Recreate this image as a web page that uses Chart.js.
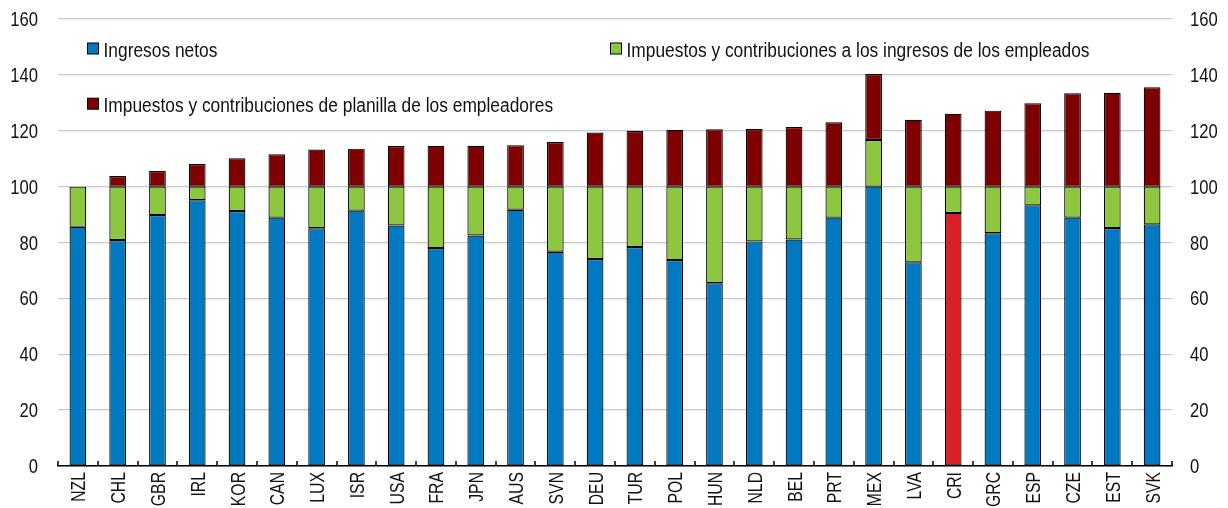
<!DOCTYPE html>
<html><head><meta charset="utf-8">
<script src="https://cdn.jsdelivr.net/npm/chart.js@4/dist/chart.umd.min.js"></script>
<style>html,body{margin:0;padding:0;background:#fff}#wrap{width:1228px;height:508px}</style>
</head><body><div id="wrap"><canvas id="c" width="1228" height="508"></canvas></div>
<script>
const categories = ['NZL','CHL','GBR','IRL','KOR','CAN','LUX','ISR','USA','FRA','JPN','AUS','SVN','DEU','TUR','POL','HUN','NLD','BEL','PRT','MEX','LVA','CRI','GRC','ESP','CZE','EST','SVK'];
const netIncome =     [85.6, 80.9, 89.8, 95.1, 91.3, 88.9, 85.1, 91.4, 86.1, 78.0, 82.5, 91.7, 76.7, 74.1, 78.4, 73.7, 65.4, 80.4, 81.1, 88.9, 100.0, 72.9, 90.6, 83.3, 93.3, 88.9, 85.2, 86.5];
const employeeTaxes = [14.4, 19.1, 10.2,  4.9,  8.7, 11.1, 14.9,  8.6, 13.9, 22.0, 17.5,  8.3, 23.3, 25.9, 21.6, 26.3, 34.6, 19.6, 18.9, 11.1, 16.7, 27.1,  9.4, 16.7,  6.7, 11.1, 14.8, 13.5];
const employerTaxes = [ 0.0,  3.8,  5.6,  8.1, 10.2, 11.6, 13.3, 13.6, 14.5, 14.6, 14.6, 14.8, 16.0, 19.4, 19.9, 20.3, 20.5, 20.6, 21.3, 23.0, 23.6, 23.9, 26.1, 27.2, 29.8, 33.4, 33.6, 35.6];
const seriesLabels = ['Ingresos netos', 'Impuestos y contribuciones a los ingresos de los empleados', 'Impuestos y contribuciones de planilla de los empleadores'];
const yTickValues = [0, 20, 40, 60, 80, 100, 120, 140, 160];
const highlightCategory = 'CRI';

const FONT = '"Liberation Sans", Arial, sans-serif';
const BLUE = '#0079C1', GREEN = '#8DC63F', DARKRED = '#7F0000', HIGHLIGHT = '#DA2128';
const TEXT = '#111111';

function narrowText(ctx, str, x, y, sx, align, size, rotated) {
  ctx.save();
  ctx.translate(x, y);
  if (rotated) ctx.transform(0, -1, 1, 0, 0, 0);
  ctx.scale(sx, 1);
  ctx.font = size + 'px ' + FONT;
  ctx.textAlign = align;
  ctx.textBaseline = 'alphabetic';
  ctx.fillStyle = TEXT;
  ctx.fillText(str, 0, 0);
  ctx.restore();
}

const textPlugin = {
  id: 'narrowText',
  afterDraw(chart) {
    const ctx = chart.ctx, area = chart.chartArea;
    const xs = chart.scales.x, yl = chart.scales.y, yr = chart.scales.y2;
    yTickValues.forEach(v => {
      narrowText(ctx, String(v), area.left - 20, yl.getPixelForValue(v) + 7, 0.83, 'right', 20);
      narrowText(ctx, String(v), area.right + 18, yr.getPixelForValue(v) + 7, 0.83, 'left', 20);
    });
    categories.forEach((c, i) => {
      const px = xs.getPixelForValue(i);
      narrowText(ctx, c, px + 7.5, xs.top + 6, 0.75, 'right', 21, true);
    });
    const n = categories.length, step = xs.width / n;
    ctx.save();
    ctx.strokeStyle = '#000';
    ctx.lineWidth = 1.5;
    ctx.beginPath();
    for (let i = 0; i <= n; i++) {
      const x = Math.round(xs.left + i * step);
      ctx.moveTo(x, xs.top);
      ctx.lineTo(x, xs.top - 5);
    }
    ctx.stroke();
    ctx.restore();
    const colX = [29, 552], rowTop = [23.5, 78.7];
    chart.data.datasets.forEach((ds, i) => {
      const x = area.left + colX[i % 2];
      const y = area.top + rowTop[Math.floor(i / 2)];
      ctx.save();
      ctx.fillStyle = ds.legendColor;
      ctx.fillRect(x + 0.5, y + 0.5, 11, 11);
      ctx.strokeStyle = '#000';
      ctx.lineWidth = 1;
      ctx.strokeRect(x + 0.5, y + 0.5, 11, 11);
      ctx.restore();
      narrowText(ctx, ds.label, x + 16.5, y + 14.3, 0.89, 'left', 19.5);
    });
  }
};

const barPct = 0.42;
new Chart(document.getElementById('c'), {
  type: 'bar',
  data: {
    labels: categories,
    datasets: [
      { label: seriesLabels[0], data: netIncome, legendColor: BLUE,
        backgroundColor: categories.map(c => c === highlightCategory ? HIGHLIGHT : BLUE) },
      { label: seriesLabels[1], data: employeeTaxes, legendColor: GREEN, backgroundColor: GREEN },
      { label: seriesLabels[2], data: employerTaxes, legendColor: DARKRED, backgroundColor: DARKRED }
    ].map(d => Object.assign(d, { borderColor: '#000', borderWidth: 1.2, borderSkipped: false, barPercentage: barPct, categoryPercentage: 1 }))
  },
  plugins: [textPlugin],
  options: {
    responsive: false,
    animation: false,
    devicePixelRatio: 1,
    layout: { padding: { top: 19, left: 0, right: 0, bottom: 0 } },
    plugins: { legend: { display: false }, tooltip: { enabled: false } },
    scales: {
      x: {
        stacked: true,
        grid: { display: false, drawTicks: false },
        border: { display: true, color: '#000', width: 1.5 },
        ticks: { display: false, autoSkip: false },
        afterFit(s) { s.height = 42; }
      },
      y: {
        stacked: true, position: 'left', min: 0, max: 160,
        afterBuildTicks(s) { s.ticks = yTickValues.map(v => ({ value: v })); },
        grid: { color: '#c8c8c8', lineWidth: 1.3, drawTicks: false },
        border: { display: false },
        ticks: { display: false },
        afterFit(s) { s.width = 58; }
      },
      y2: {
        position: 'right', min: 0, max: 160,
        afterBuildTicks(s) { s.ticks = yTickValues.map(v => ({ value: v })); },
        grid: { display: false, drawTicks: false },
        border: { display: false },
        ticks: { display: false },
        afterFit(s) { s.width = 56; }
      }
    }
  }
});
</script>
</body></html>
